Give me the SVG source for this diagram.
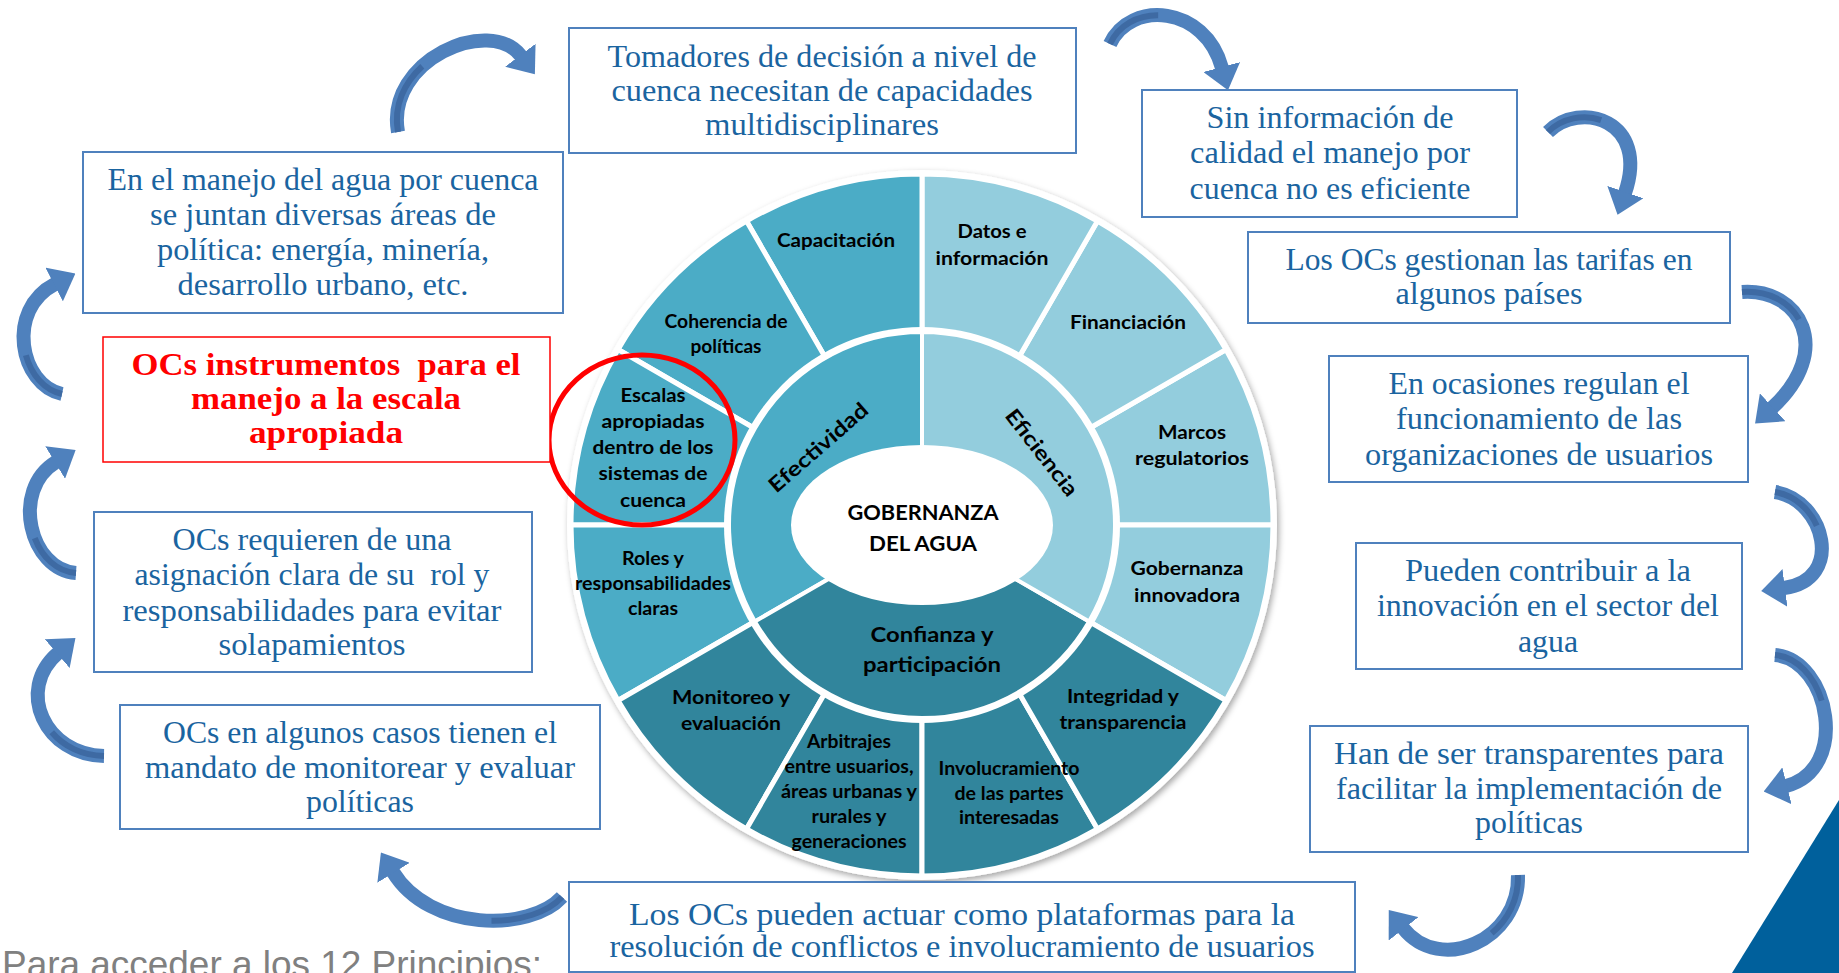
<svg xmlns="http://www.w3.org/2000/svg" width="1839" height="973" viewBox="0 0 1839 973">
<defs>
<style>
.box{fill:#fff;stroke:#4F81BD;stroke-width:2}
.bt{font-family:"Liberation Serif",serif;font-size:31px;fill:#1A64A0;text-anchor:middle}
.rt{font-family:"Liberation Serif",serif;font-size:31px;fill:#FF0000;font-weight:bold;text-anchor:middle}
.wl{font-family:Lato,"Open Sans",sans-serif;font-weight:700;font-size:18px;fill:#000;text-anchor:middle}
.wb{font-family:Lato,"Open Sans",sans-serif;font-weight:700;font-size:21px;fill:#000;text-anchor:middle}
.seg{stroke:#fff;stroke-width:5;stroke-linejoin:round}
.mid{stroke:#fff;stroke-width:4;stroke-linejoin:round}
.eff{fill:#4BACC6}
.efi{fill:#93CDDD}
.con{fill:#31859C}
.arr{fill:none;stroke:#4F81BD;stroke-width:14;marker-end:url(#ah)}
.arrd{fill:none;stroke:#3E6AA3;stroke-width:6;stroke-dasharray:40 200}
</style>
<marker id="ah" markerUnits="userSpaceOnUse" viewBox="0 0 24 38" markerWidth="24" markerHeight="38" refX="1" refY="19" orient="auto">
<path d="M0,0 L24,19 L0,38 Z" fill="#4F81BD"/>
</marker>
<filter id="sh" x="-10%" y="-10%" width="120%" height="120%">
<feDropShadow dx="2" dy="3" stdDeviation="3" flood-color="#000" flood-opacity="0.35"/>
</filter>
</defs>
<rect width="1839" height="973" fill="#fff"/>

<g id="wheel">
<circle cx="922" cy="525" r="355" fill="#fff" filter="url(#sh)"/>
<path class="seg efi" d="M922,525 L1273,525 A351,351 0 0 0 1225.97,349.5 Z"/>
<path class="seg efi" d="M922,525 L1225.97,349.5 A351,351 0 0 0 1097.5,221.03 Z"/>
<path class="seg efi" d="M922,525 L1097.5,221.03 A351,351 0 0 0 922,174 Z"/>
<path class="seg efi" d="M922,525 L1225.97,700.5 A351,351 0 0 0 1273,525 Z"/>
<path class="seg eff" d="M922,525 L922,174 A351,351 0 0 0 746.5,221.03 Z"/>
<path class="seg eff" d="M922,525 L746.5,221.03 A351,351 0 0 0 618.03,349.5 Z"/>
<path class="seg eff" d="M922,525 L618.03,349.5 A351,351 0 0 0 571,525 Z"/>
<path class="seg eff" d="M922,525 L571,525 A351,351 0 0 0 618.03,700.5 Z"/>
<path class="seg con" d="M922,525 L618.03,700.5 A351,351 0 0 0 746.5,828.97 Z"/>
<path class="seg con" d="M922,525 L746.5,828.97 A351,351 0 0 0 922,876 Z"/>
<path class="seg con" d="M922,525 L922,876 A351,351 0 0 0 1097.5,828.97 Z"/>
<path class="seg con" d="M922,525 L1097.5,828.97 A351,351 0 0 0 1225.97,700.5 Z"/>
<circle cx="922" cy="525" r="198" fill="#fff"/>
<path class="mid eff" d="M922,525 L922,332 A193,193 0 0 0 754.86,621.5 Z"/>
<path class="mid con" d="M922,525 L754.86,621.5 A193,193 0 0 0 1089.14,621.5 Z"/>
<path class="mid efi" d="M922,525 L1089.14,621.5 A193,193 0 0 0 922,332 Z"/>
<ellipse cx="922" cy="525" rx="131" ry="80" fill="#fff"/>

<text class="wl" x="836" y="247" textLength="118" lengthAdjust="spacingAndGlyphs">Capacitación</text>
<text class="wl" x="992" y="238" textLength="69" lengthAdjust="spacingAndGlyphs">Datos e</text>
<text class="wl" x="992" y="265" textLength="113" lengthAdjust="spacingAndGlyphs">información</text>
<text class="wl" x="726" y="328" textLength="123" lengthAdjust="spacingAndGlyphs">Coherencia de</text>
<text class="wl" x="726" y="353" textLength="71" lengthAdjust="spacingAndGlyphs">políticas</text>
<text class="wl" x="1128" y="329" textLength="116" lengthAdjust="spacingAndGlyphs">Financiación</text>
<text class="wl" x="653" y="402" textLength="65" lengthAdjust="spacingAndGlyphs">Escalas</text>
<text class="wl" x="653" y="428" textLength="103" lengthAdjust="spacingAndGlyphs">apropiadas</text>
<text class="wl" x="653" y="454" textLength="121" lengthAdjust="spacingAndGlyphs">dentro de los</text>
<text class="wl" x="653" y="480" textLength="109" lengthAdjust="spacingAndGlyphs">sistemas de</text>
<text class="wl" x="653" y="507" textLength="66" lengthAdjust="spacingAndGlyphs">cuenca</text>
<text class="wl" x="1192" y="439" textLength="68" lengthAdjust="spacingAndGlyphs">Marcos</text>
<text class="wl" x="1192" y="465" textLength="114" lengthAdjust="spacingAndGlyphs">regulatorios</text>
<text class="wl" x="653" y="565" textLength="62" lengthAdjust="spacingAndGlyphs">Roles y</text>
<text class="wl" x="653" y="590" textLength="156" lengthAdjust="spacingAndGlyphs">responsabilidades</text>
<text class="wl" x="653" y="615" textLength="50" lengthAdjust="spacingAndGlyphs">claras</text>
<text class="wl" x="1187" y="575" textLength="113" lengthAdjust="spacingAndGlyphs">Gobernanza</text>
<text class="wl" x="1187" y="602" textLength="106" lengthAdjust="spacingAndGlyphs">innovadora</text>
<text class="wl" x="731" y="704" textLength="118" lengthAdjust="spacingAndGlyphs">Monitoreo y</text>
<text class="wl" x="731" y="730" textLength="100" lengthAdjust="spacingAndGlyphs">evaluación</text>
<text class="wl" x="1123" y="703" textLength="112" lengthAdjust="spacingAndGlyphs">Integridad y</text>
<text class="wl" x="1123" y="729" textLength="127" lengthAdjust="spacingAndGlyphs">transparencia</text>
<text class="wl" x="849" y="748" textLength="84" lengthAdjust="spacingAndGlyphs">Arbitrajes</text>
<text class="wl" x="849" y="773" textLength="129" lengthAdjust="spacingAndGlyphs">entre usuarios,</text>
<text class="wl" x="849" y="798" textLength="136" lengthAdjust="spacingAndGlyphs">áreas urbanas y</text>
<text class="wl" x="849" y="823" textLength="75" lengthAdjust="spacingAndGlyphs">rurales y</text>
<text class="wl" x="849" y="848" textLength="115" lengthAdjust="spacingAndGlyphs">generaciones</text>
<text class="wl" x="1009" y="775" textLength="141" lengthAdjust="spacingAndGlyphs">Involucramiento</text>
<text class="wl" x="1009" y="800" textLength="109" lengthAdjust="spacingAndGlyphs">de las partes</text>
<text class="wl" x="1009" y="824" textLength="100" lengthAdjust="spacingAndGlyphs">interesadas</text>
<text class="wb" transform="translate(823,453) rotate(-41)" textLength="124" lengthAdjust="spacingAndGlyphs">Efectividad</text>
<text class="wb" transform="translate(1036,457) rotate(52)" textLength="104" lengthAdjust="spacingAndGlyphs">Eficiencia</text>
<text class="wb" x="932" y="642" textLength="123" lengthAdjust="spacingAndGlyphs">Confianza y</text>
<text class="wb" x="932" y="672" textLength="138" lengthAdjust="spacingAndGlyphs">participación</text>
<text class="wb" x="923" y="520" textLength="151" lengthAdjust="spacingAndGlyphs">GOBERNANZA</text>
<text class="wb" x="923" y="551" textLength="108" lengthAdjust="spacingAndGlyphs">DEL AGUA</text>
<ellipse cx="642" cy="440" rx="93" ry="85" fill="none" stroke="#FF0000" stroke-width="5"/>
</g>

<g id="connectors">
<path class="arr" d="M398,132 C385,60 490,15 521,56"/>
<path class="arrd" pathLength="100" d="M398,132 C385,60 490,15 521,56"/>
<path class="arr" d="M1110,44 C1130,0 1205,5 1222,68"/>
<path class="arrd" pathLength="100" d="M1110,44 C1130,0 1205,5 1222,68"/>
<path class="arr" d="M1548,132 C1580,100 1650,120 1625,193"/>
<path class="arrd" pathLength="100" d="M1548,132 C1580,100 1650,120 1625,193"/>
<path class="arr" d="M1742,292 C1800,288 1835,350 1772,408"/>
<path class="arrd" pathLength="100" d="M1742,292 C1800,288 1835,350 1772,408"/>
<path class="arr" d="M1775,492 C1825,500 1845,580 1784,588"/>
<path class="arrd" pathLength="100" d="M1775,492 C1825,500 1845,580 1784,588"/>
<path class="arr" d="M1775,655 C1830,660 1850,770 1786,786"/>
<path class="arrd" pathLength="100" d="M1775,655 C1830,660 1850,770 1786,786"/>
<path class="arr" d="M1518,875 C1520,940 1440,975 1403,928"/>
<path class="arrd" pathLength="100" d="M1518,875 C1520,940 1440,975 1403,928"/>
<path class="arr" d="M562,897 C530,932 430,932 393,872"/>
<path class="arrd" pathLength="100" d="M562,897 C530,932 430,932 393,872"/>
<path class="arr" d="M104,756 C45,755 15,690 58,653"/>
<path class="arrd" pathLength="100" d="M104,756 C45,755 15,690 58,653"/>
<path class="arr" d="M76,573 C30,570 10,490 56,462"/>
<path class="arrd" pathLength="100" d="M76,573 C30,570 10,490 56,462"/>
<path class="arr" d="M62,394 C20,385 5,310 55,284"/>
<path class="arrd" pathLength="100" d="M62,394 C20,385 5,310 55,284"/>
</g>

<g id="box-tomadores">
<rect class="box" x="569" y="28" width="507" height="125"/>
<text class="bt" x="822" y="67" textLength="429" lengthAdjust="spacingAndGlyphs">Tomadores de decisión a nivel de</text>
<text class="bt" x="822" y="101" textLength="421" lengthAdjust="spacingAndGlyphs">cuenca necesitan de capacidades</text>
<text class="bt" x="822" y="135" textLength="234" lengthAdjust="spacingAndGlyphs">multidisciplinares</text>
</g>

<g id="box-manejo">
<rect class="box" x="83" y="152" width="480" height="161"/>
<text class="bt" x="323" y="190" textLength="431" lengthAdjust="spacingAndGlyphs">En el manejo del agua por cuenca</text>
<text class="bt" x="323" y="225" textLength="346" lengthAdjust="spacingAndGlyphs">se juntan diversas áreas de</text>
<text class="bt" x="323" y="260" textLength="332" lengthAdjust="spacingAndGlyphs">política: energía, minería,</text>
<text class="bt" x="323" y="295" textLength="291" lengthAdjust="spacingAndGlyphs">desarrollo urbano, etc.</text>
</g>

<g id="box-instrumentos">
<rect x="103" y="337" width="447" height="125" fill="#fff" stroke="#FF0000" stroke-width="1.5"/>
<text class="rt" x="326" y="375" textLength="389" lengthAdjust="spacingAndGlyphs" xml:space="preserve">OCs instrumentos  para el</text>
<text class="rt" x="326" y="409" textLength="270" lengthAdjust="spacingAndGlyphs">manejo a la escala</text>
<text class="rt" x="326" y="443" textLength="154" lengthAdjust="spacingAndGlyphs">apropiada</text>
</g>

<g id="box-rol">
<rect class="box" x="94" y="512" width="438" height="160"/>
<text class="bt" x="312" y="550" textLength="279" lengthAdjust="spacingAndGlyphs">OCs requieren de una</text>
<text class="bt" x="312" y="585" textLength="355" lengthAdjust="spacingAndGlyphs" xml:space="preserve">asignación clara de su  rol y</text>
<text class="bt" x="312" y="621" textLength="379" lengthAdjust="spacingAndGlyphs">responsabilidades para evitar</text>
<text class="bt" x="312" y="655" textLength="187" lengthAdjust="spacingAndGlyphs">solapamientos</text>
</g>

<g id="box-monitorear">
<rect class="box" x="120" y="705" width="480" height="124"/>
<text class="bt" x="360" y="743" textLength="394" lengthAdjust="spacingAndGlyphs">OCs en algunos casos tienen el</text>
<text class="bt" x="360" y="778" textLength="430" lengthAdjust="spacingAndGlyphs">mandato de monitorear y evaluar</text>
<text class="bt" x="360" y="812" textLength="108" lengthAdjust="spacingAndGlyphs">políticas</text>
</g>

<g id="box-plataformas">
<rect class="box" x="569" y="882" width="786" height="90"/>
<text class="bt" x="962" y="925" textLength="666" lengthAdjust="spacingAndGlyphs">Los OCs pueden actuar como plataformas para la</text>
<text class="bt" x="962" y="957" textLength="705" lengthAdjust="spacingAndGlyphs">resolución de conflictos e involucramiento de usuarios</text>
</g>

<g id="box-informacion">
<rect class="box" x="1142" y="90" width="375" height="127"/>
<text class="bt" x="1330" y="128" textLength="247" lengthAdjust="spacingAndGlyphs">Sin información de</text>
<text class="bt" x="1330" y="163" textLength="280" lengthAdjust="spacingAndGlyphs">calidad el manejo por</text>
<text class="bt" x="1330" y="199" textLength="281" lengthAdjust="spacingAndGlyphs">cuenca no es eficiente</text>
</g>

<g id="box-tarifas">
<rect class="box" x="1248" y="232" width="482" height="91"/>
<text class="bt" x="1489" y="270" textLength="407" lengthAdjust="spacingAndGlyphs">Los OCs gestionan las tarifas en</text>
<text class="bt" x="1489" y="304" textLength="187" lengthAdjust="spacingAndGlyphs">algunos países</text>
</g>

<g id="box-regulan">
<rect class="box" x="1329" y="356" width="419" height="126"/>
<text class="bt" x="1539" y="394" textLength="301" lengthAdjust="spacingAndGlyphs">En ocasiones regulan el</text>
<text class="bt" x="1539" y="429" textLength="286" lengthAdjust="spacingAndGlyphs">funcionamiento de las</text>
<text class="bt" x="1539" y="465" textLength="348" lengthAdjust="spacingAndGlyphs">organizaciones de usuarios</text>
</g>

<g id="box-innovacion">
<rect class="box" x="1356" y="543" width="386" height="126"/>
<text class="bt" x="1548" y="581" textLength="286" lengthAdjust="spacingAndGlyphs">Pueden contribuir a la</text>
<text class="bt" x="1548" y="616" textLength="342" lengthAdjust="spacingAndGlyphs">innovación en el sector del</text>
<text class="bt" x="1548" y="652" textLength="60" lengthAdjust="spacingAndGlyphs">agua</text>
</g>

<g id="box-transparentes">
<rect class="box" x="1310" y="726" width="438" height="126"/>
<text class="bt" x="1529" y="764" textLength="390" lengthAdjust="spacingAndGlyphs">Han de ser transparentes para</text>
<text class="bt" x="1529" y="799" textLength="386" lengthAdjust="spacingAndGlyphs">facilitar la implementación de</text>
<text class="bt" x="1529" y="833" textLength="108" lengthAdjust="spacingAndGlyphs">políticas</text>
</g>

<polygon points="1732,973 1839,800 1839,973" fill="#00609C"/>
<text x="2" y="977" font-family="Liberation Sans, Arial, sans-serif" font-size="36" fill="#808080" textLength="540" lengthAdjust="spacingAndGlyphs">Para acceder a los 12 Principios:</text>
</svg>
